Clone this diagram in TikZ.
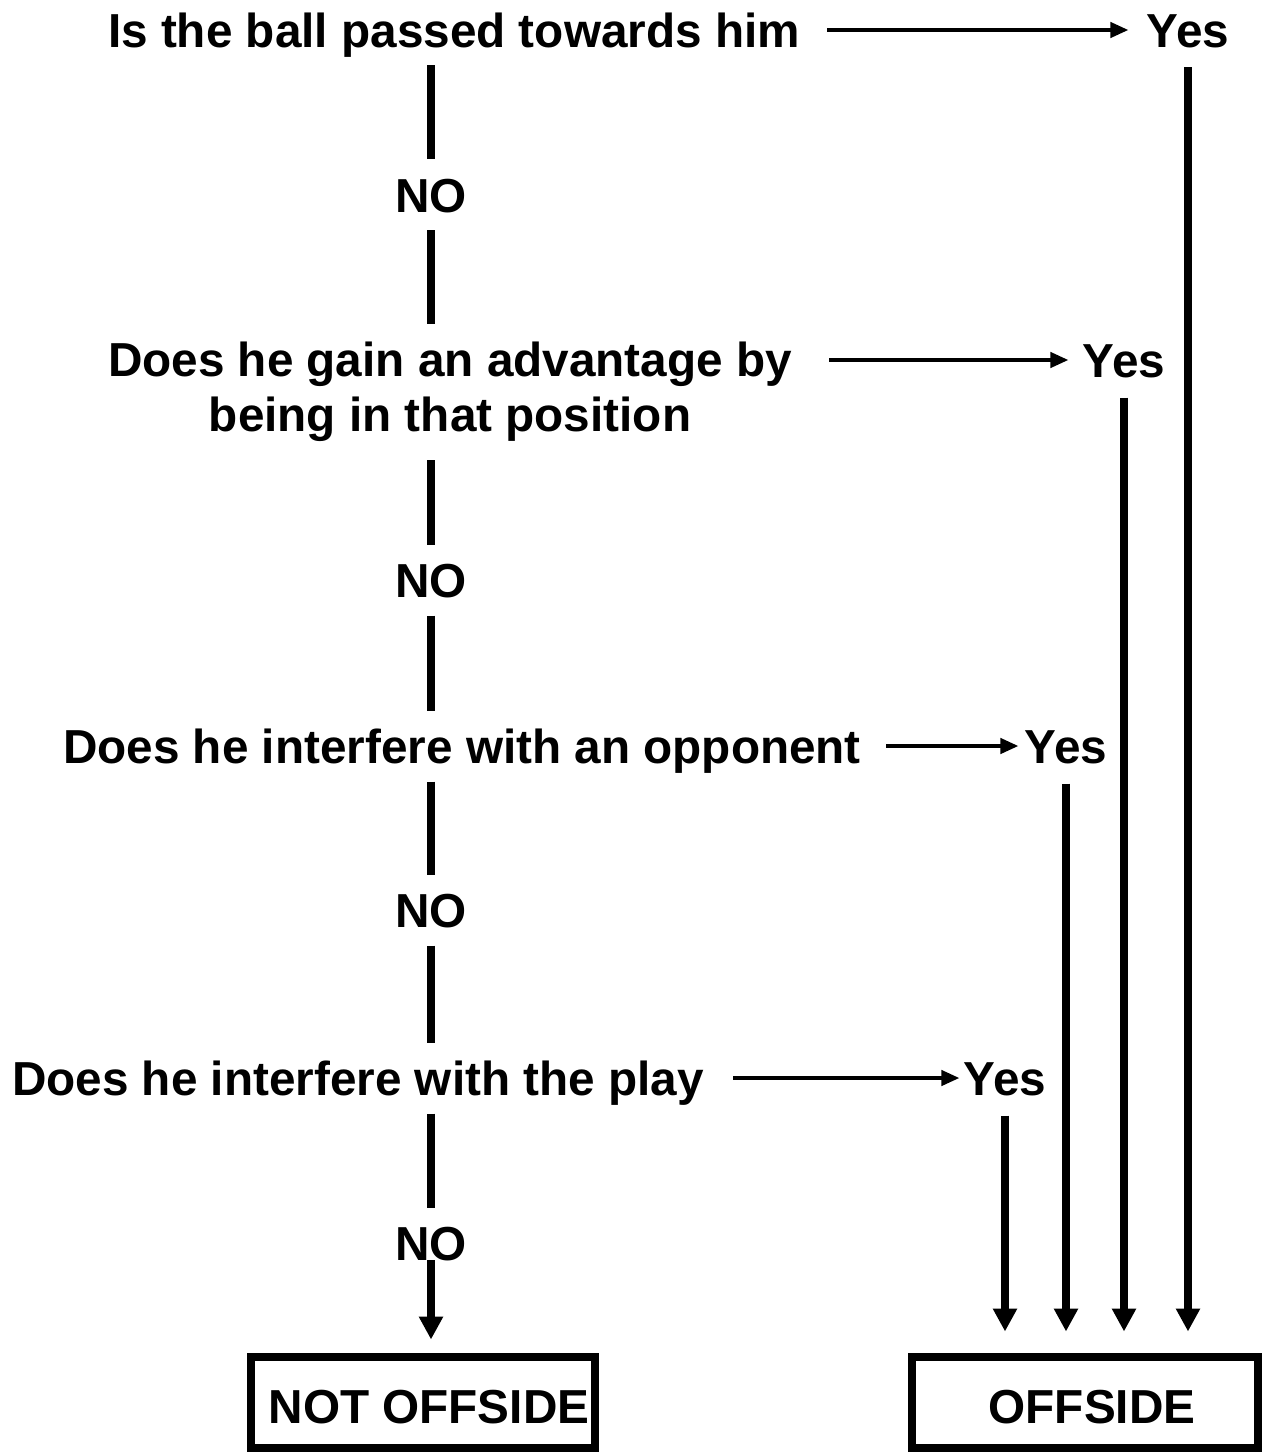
\documentclass[tikz,border=0pt]{standalone}
\usepackage{fontspec}
\setmainfont{Liberation Sans}
\usetikzlibrary{arrows.meta,calc}
\tikzstyle{ask}=[font=\fontsize{23.85pt}{27.5pt}\selectfont\bfseries, inner xsep=0pt, inner ysep=9pt, text height=17.1pt, text depth=0pt]
\tikzstyle{ask2}=[font=\fontsize{23.85pt}{27.5pt}\selectfont\bfseries, inner xsep=0pt, inner ysep=9pt, align=center]
\tikzstyle{yes}=[ask, inner ysep=10pt]
\tikzstyle{verdict}=[ask, draw=black, line width=4pt, minimum height=45.5pt, text height=21.1pt]
\tikzstyle{l1}=[line width=3.75pt]
\tikzstyle{l2}=[line width=2pt, -{Triangle[length=9pt,width=7.5pt]}]
\tikzstyle{l3}=[line width=3.75pt, -{Triangle[length=11.5pt,width=11.5pt]}]

\begin{document}
\begin{tikzpicture}[x=0.5pt, y=-0.5pt]

    \useasboundingbox (0,0) rectangle (1264,1455);

    % questions
    \node[ask] (q1) at (454,30) {Is the ball passed towards him};
    \node[ask2] (q2) at (450,392) {Does he gain an advantage by\\being in that position};
    \node[ask] (q3) at (462,746) {Does he interfere with an opponent};
    \node[ask] (q4) at (358,1078) {Does he interfere with the play};

    \node[ask] (no1) at (431,195) {NO};
    \node[ask] (no2) at (431,580) {NO};
    \node[ask] (no3) at (431,910) {NO};
    \node[ask] (no4) at (431,1243) {NO};

    \node[yes] (yes1) at (1188,30) {Yes};
    \node[yes] (yes2) at (1124,360) {Yes};
    \node[yes] (yes3) at (1066,746) {Yes};
    \node[yes] (yes4) at (1005,1078) {Yes};

    % results
    \node[verdict, minimum width=172pt] (notoff) at (423,1402) {\kern6pt NOT OFFSIDE};
    \node[verdict, minimum width=173pt] (off) at (1085,1402) {\kern7pt OFFSIDE};

    % no-branch
    \draw[l1] (no1 |- q1.south) -- (no1.north);
    \draw[l1] (no1.south) -- (no1 |- q2.north);
    \draw[l1] (no2 |- q2.south) -- (no2.north);
    \draw[l1] (no2.south) -- (no2 |- q3.north);
    \draw[l1] (no3 |- q3.south) -- (no3.north);
    \draw[l1] (no3.south) -- (no3 |- q4.north);
    \draw[l1] (no4 |- q4.south) -- (no4.north);
    \draw[l3, shorten >=6.5pt] (no4.base) -- (no4 |- notoff.north);

    % yes-branch
    \draw[l2, shorten <=13.5pt, shorten >=9pt] (q1) -- (yes1);
    \draw[l2, shorten <=18.5pt, shorten >=7pt] (q2.east |- yes2) -- (yes2);
    \draw[l2, shorten <=12.5pt, shorten >=3pt] (q3) -- (yes3);
    \draw[l2, shorten <=14.5pt, shorten >=2pt] (q4) -- (yes4);

    \foreach \i in {1,...,4}{
      \draw[l3, shorten >=10.5pt] (yes\i) -- (yes\i |- off.north);
    }

\end{tikzpicture}
\end{document}
